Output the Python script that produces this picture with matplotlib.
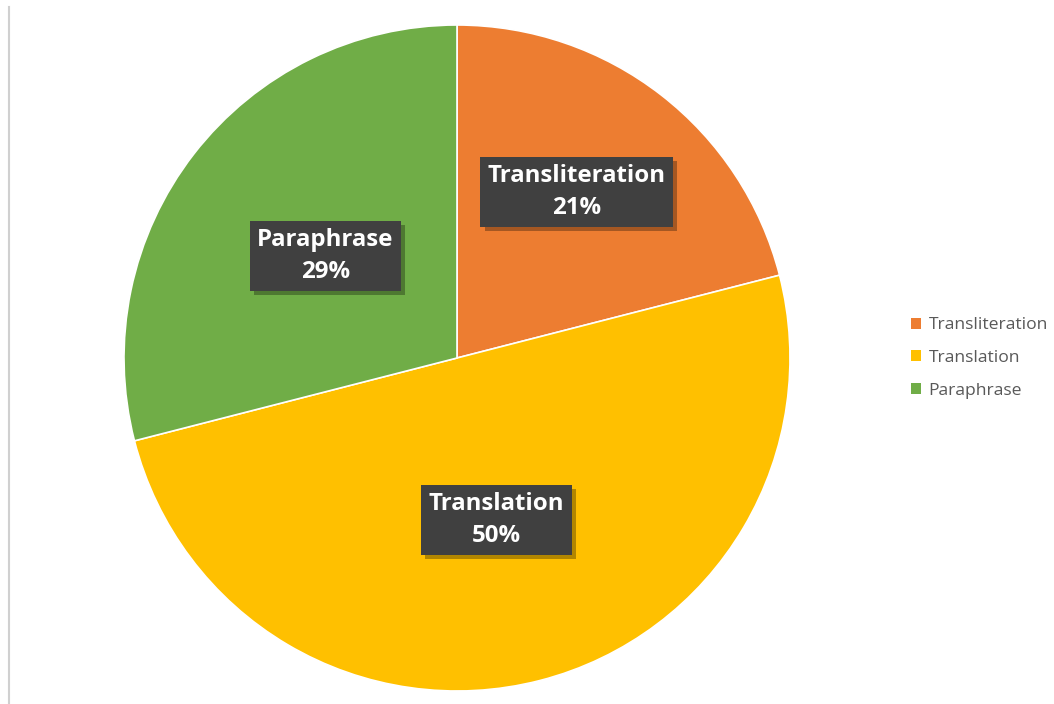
import matplotlib
matplotlib.use("Agg")
import matplotlib.pyplot as plt
import matplotlib.patheffects as pe
import numpy as np

categories = ["Transliteration", "Translation", "Paraphrase"]
shares = [21, 50, 29]
colors = ["#ED7D31", "#FFC000", "#70AD47"]
label_radius = [0.615, 0.50, 0.50]
label_angle_shift = [2.0, -0.7, 0.0]

W, H = 1054, 704
fig = plt.figure(figsize=(W / 100, H / 100), dpi=100)
fig.patch.set_facecolor("white")

# pie area in pixel terms: center (457, 358), radius 333
cx, cy, r = 457, 358, 333
ax = fig.add_axes([(cx - r) / W, (H - cy - r) / H, 2 * r / W, 2 * r / H])
wedges, _ = ax.pie(shares, colors=colors, startangle=90, counterclock=False,
                   radius=1.0, wedgeprops=dict(linewidth=1.2, edgecolor="white"))
ax.set_xlim(-1, 1)
ax.set_ylim(-1, 1)
ax.set_aspect("equal")

for w, name, val, d, da in zip(wedges, categories, shares, label_radius,
                               label_angle_shift):
    mid = np.deg2rad((w.theta1 + w.theta2) / 2 + da)
    t = ax.text(d * np.cos(mid), d * np.sin(mid), f"{name}\n{val}%",
                ha="center", va="center", color="white", fontsize=17.3,
                fontweight="bold", family="Open Sans", linespacing=1.42,
                bbox=dict(boxstyle="square,pad=0.31", facecolor="#404040",
                          edgecolor="none"))
    t.get_bbox_patch().set_path_effects([
        pe.SimplePatchShadow(offset=(3, -3), shadow_rgbFace="black", alpha=0.3),
        pe.Normal()])

# thin frame line at the left edge
fig.add_artist(plt.Line2D([9 / W, 9 / W], [0, 1 - 7 / H], color="#D0D0D0",
                          linewidth=1.5, transform=fig.transFigure))

handles = [plt.Rectangle((0, 0), 1, 1, facecolor=c, edgecolor="none") for c in colors]
leg = fig.legend(handles, categories, loc="center left",
                 bbox_to_anchor=(911 / W, 1 - 358 / H), frameon=False,
                 handlelength=0.58, handleheight=0.58, handletextpad=0.42,
                 labelspacing=0.95, borderaxespad=0, borderpad=0,
                 prop=dict(family="Open Sans", size=12.6))
for txt in leg.get_texts():
    txt.set_color("#595959")

fig.savefig("out.png", dpi=100)
